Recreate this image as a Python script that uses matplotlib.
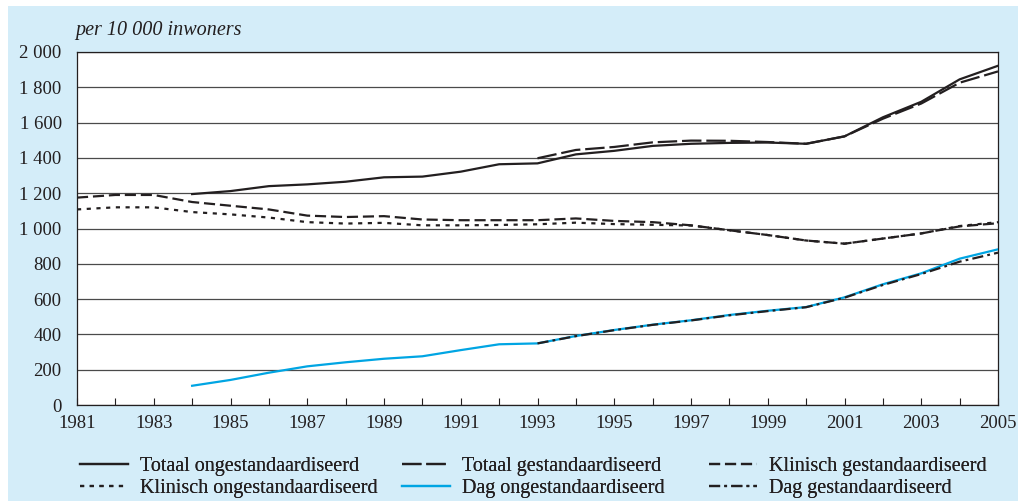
import matplotlib.pyplot as plt
from matplotlib.patches import Rectangle

# Data (per 10 000 inwoners)
years = list(range(1981, 2006))

totaal_ong_years = list(range(1984, 2006))
totaal_ong = [1195, 1212, 1240, 1250, 1265, 1290, 1294, 1322, 1364, 1369, 1420, 1440,
              1468, 1480, 1485, 1487, 1480, 1522, 1630, 1718, 1845, 1922]

totaal_gest_years = list(range(1993, 2006))
totaal_gest = [1398, 1445, 1462, 1488, 1498, 1497, 1490, 1480, 1522, 1622, 1708, 1826, 1890]

klinisch_gest_years = list(range(1981, 2006))
klinisch_gest = [1175, 1190, 1190, 1150, 1129, 1108, 1073, 1065, 1070, 1051, 1047, 1047,
                 1047, 1057, 1043, 1036, 1018, 990, 963, 932, 914, 943, 972, 1012, 1030]

klinisch_ong_years = list(range(1981, 2006))
klinisch_ong = [1108, 1120, 1120, 1093, 1080, 1062, 1036, 1028, 1032, 1018, 1018, 1020,
                1024, 1033, 1025, 1021, 1017, 990, 963, 932, 914, 943, 972, 1014, 1036]

dag_ong_years = list(range(1984, 2006))
dag_ong = [109, 142, 183, 219, 242, 262, 276, 311, 344, 349, 391, 425,
           455, 480, 510, 534, 555, 610, 684, 746, 829, 882]

dag_gest_years = list(range(1993, 2006))
dag_gest = [349, 390, 424, 454, 479, 508, 532, 554, 608, 680, 742, 812, 863]

ytick_values = list(range(0, 2001, 200))

ink = "#231f20"
blue = "#00a5e3"
bg = "#d4edf9"

plt.rcParams['font.family'] = ['Liberation Serif', 'DejaVu Serif']
plt.rcParams['lines.scale_dashes'] = False

fig = plt.figure(figsize=(10.18, 5.01), dpi=100)
fig.patch.set_facecolor("white")
fig.add_artist(Rectangle((8 / 1018, 0), 1 - 8 / 1018, 495 / 501,
                         transform=fig.transFigure, facecolor=bg,
                         edgecolor="none", zorder=-10))

ax = fig.add_axes([77 / 1018, 1 - 405 / 501, 921 / 1018, 353 / 501])
ax.set_facecolor("white")

ax.plot(totaal_ong_years, totaal_ong, color=ink, lw=1.6, ls="-",
        label="Totaal ongestandaardiseerd", zorder=5)
ax.plot(totaal_gest_years, totaal_gest, color=ink, lw=1.6, dashes=(14, 3.5),
        label="Totaal gestandaardiseerd", zorder=5)
ax.plot(klinisch_gest_years, klinisch_gest, color=ink, lw=1.6, dashes=(8, 3.5),
        label="Klinisch gestandaardiseerd", zorder=5)
ax.plot(klinisch_ong_years, klinisch_ong, color=ink, lw=1.6, dashes=(3, 4),
        label="Klinisch ongestandaardiseerd", zorder=5)
ax.plot(dag_ong_years, dag_ong, color=blue, lw=1.6, ls="-",
        label="Dag ongestandaardiseerd", zorder=4)
ax.plot(dag_gest_years, dag_gest, color=ink, lw=1.6, dashes=(8, 3, 2, 3),
        label="Dag gestandaardiseerd", zorder=5)

ax.set_xlim(1981, 2005)
ax.set_ylim(0, 2000)
ax.set_yticks(ytick_values)
ax.set_yticklabels([f"{v:,}".replace(",", " ") for v in ytick_values])
ax.set_xticks(years)
ax.set_xticklabels([str(y) if y % 2 == 1 else "" for y in years])

ax.tick_params(axis="y", length=0, pad=11, labelsize=13.5, colors=ink)
ax.tick_params(axis="x", direction="in", length=5, width=0.8, pad=7,
               labelsize=13.5, colors=ink)

ax.grid(axis="y", color="#4a4a4a", lw=0.9)
ax.set_axisbelow(True)
for side in ax.spines.values():
    side.set_color(ink)
    side.set_linewidth(0.9)

fig.text(75 / 1018, 1 - 30 / 501, "per 10 000 inwoners", style="italic",
         fontsize=14.5, color=ink, va="center", ha="left")

# legend: one two-row legend per column, placed like the reference
h, l = ax.get_legend_handles_labels()
columns = [([0, 3], 70), ([1, 4], 392), ([2, 5], 699)]
for idx, xpx in columns:
    leg = fig.legend([h[i] for i in idx], [l[i] for i in idx],
                     loc="upper left", bbox_to_anchor=(xpx / 1018, 1 - 447 / 501),
                     frameon=False, fontsize=14.5, handlelength=2.4,
                     handletextpad=0.6, labelspacing=0.12, borderpad=0,
                     labelcolor=ink)
    fig.add_artist(leg)

plt.savefig("out.png", dpi=100)
